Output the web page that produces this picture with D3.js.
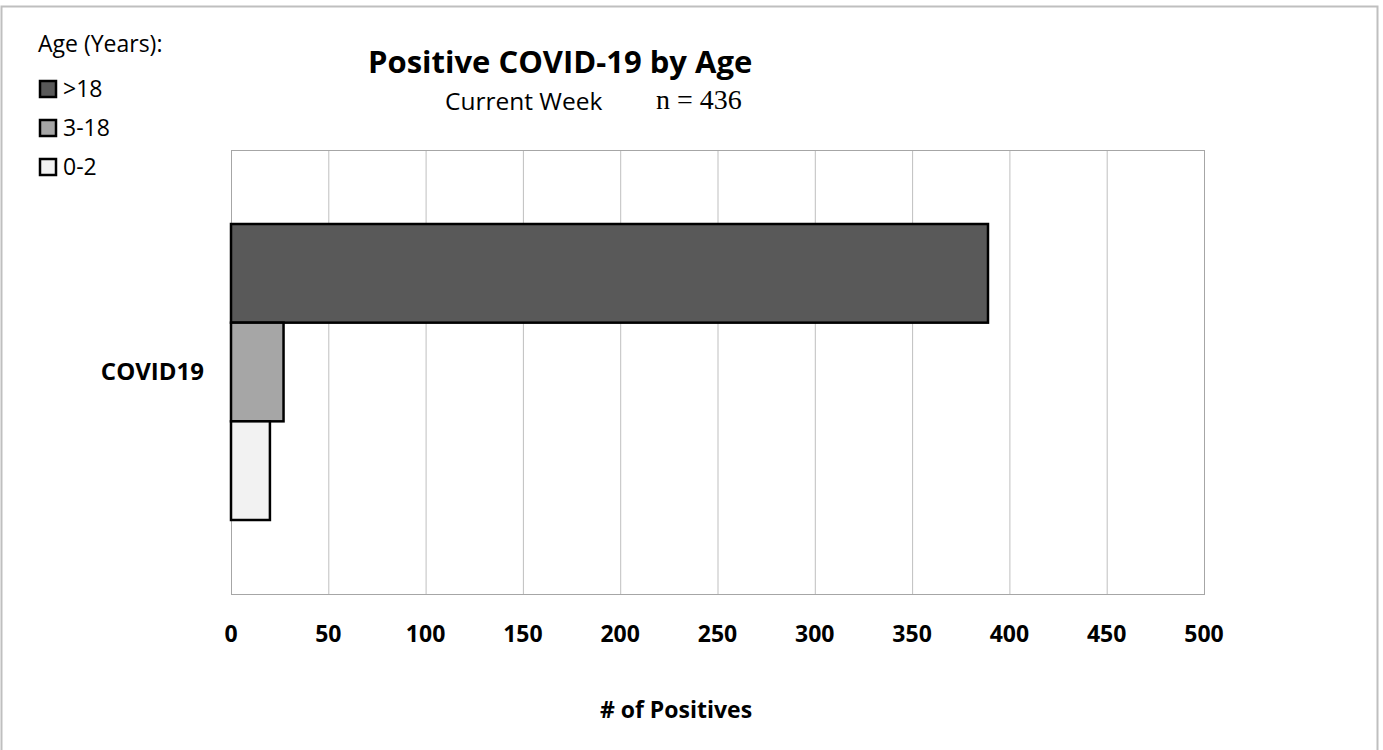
<!DOCTYPE html>
<html>
<head>
<meta charset="utf-8">
<script src="https://cdn.jsdelivr.net/npm/d3@7"></script>
<style>
  body { margin: 0; background: #fff; }
  text { font-family: "Open Sans", Lato, sans-serif; fill: #000; }
</style>
</head>
<body>
<script>
var categories = ['COVID19'];
var groups = ['>18', '3-18', '0-2'];
var values = [389, 27, 20];
var colors = ['#595959', '#a6a6a6', '#f2f2f2'];
var ticks = [0, 50, 100, 150, 200, 250, 300, 350, 400, 450, 500];

var width = 1383;
var height = 750;
var plot = { left: 231, right: 1204, top: 150, bottom: 594 };

var svg = d3.select('body')
  .append('svg')
  .attr('width', width)
  .attr('height', height);

// outer chart border (bottom runs off the page)
svg.append('path')
  .attr('d', 'M1.5,760 V6.5 H1377.5 V760')
  .attr('fill', 'none')
  .attr('stroke', '#bfbfbf')
  .attr('stroke-width', 2);

var x = d3.scaleLinear().domain([0, 500]).range([plot.left, plot.right]);
var y = d3.scaleBand().domain(categories).range([plot.top, plot.bottom]).padding(0);
// bars inside the category band, big gap above and below like excel
var yg = d3.scaleBand().domain(groups).range([0, y.bandwidth()]).paddingOuter(0.75).paddingInner(0);

// gridlines
svg.append('g')
  .selectAll('line')
  .data(ticks)
  .enter()
  .append('line')
  .attr('x1', d => x(d) + 0.5)
  .attr('x2', d => x(d) + 0.5)
  .attr('y1', plot.top)
  .attr('y2', plot.bottom)
  .attr('stroke', '#bfbfbf')
  .attr('stroke-width', 1);

// plot frame
svg.append('rect')
  .attr('x', plot.left + 0.5)
  .attr('y', plot.top + 0.5)
  .attr('width', plot.right - plot.left)
  .attr('height', plot.bottom - plot.top)
  .attr('fill', 'none')
  .attr('stroke', '#a6a6a6')
  .attr('stroke-width', 1);

// bars
svg.append('g')
  .selectAll('rect')
  .data(groups)
  .enter()
  .append('rect')
  .attr('x', x(0))
  .attr('y', d => y('COVID19') + yg(d))
  .attr('width', (d, i) => x(values[i]) - x(0))
  .attr('height', yg.bandwidth())
  .attr('fill', (d, i) => colors[i])
  .attr('stroke', '#000')
  .attr('stroke-width', 2.5);

// x tick labels
svg.append('g')
  .selectAll('text')
  .data(ticks)
  .enter()
  .append('text')
  .attr('x', d => x(d))
  .attr('y', 642)
  .attr('text-anchor', 'middle')
  .style('font-size', '23px')
  .style('font-weight', 'bold')
  .text(d => d);

// category label
svg.append('text')
  .attr('x', 204)
  .attr('y', y('COVID19') + y.bandwidth() / 2 + 8)
  .attr('text-anchor', 'end')
  .style('font-size', '24px')
  .style('font-weight', 'bold')
  .text(categories[0]);

// axis title
svg.append('text')
  .attr('x', 676)
  .attr('y', 718)
  .attr('text-anchor', 'middle')
  .style('font-size', '23px')
  .style('font-weight', 'bold')
  .text('# of Positives');

// titles
svg.append('text')
  .attr('x', 368)
  .attr('y', 73)
  .style('font-size', '31px')
  .style('font-weight', 'bold')
  .text('Positive COVID-19 by Age');

svg.append('text')
  .attr('x', 445)
  .attr('y', 110)
  .style('font-size', '24.5px')
  .text('Current Week');

svg.append('text')
  .attr('x', 656)
  .attr('y', 109)
  .style('font-family', '"Liberation Serif", serif')
  .style('font-size', '28px')
  .text('n = 436');

// legend
svg.append('text')
  .attr('x', 38)
  .attr('y', 52)
  .style('font-size', '23px')
  .text('Age (Years):');

var legend = svg.append('g')
  .selectAll('g')
  .data(groups)
  .enter()
  .append('g')
  .attr('transform', (d, i) => 'translate(40,' + (81 + i * 39) + ')');

legend.append('rect')
  .attr('width', 16)
  .attr('height', 16)
  .attr('fill', (d, i) => colors[i])
  .attr('stroke', '#000')
  .attr('stroke-width', 2.5);

legend.append('text')
  .attr('x', 23)
  .attr('y', 16)
  .style('font-size', '23px')
  .text(d => d);
</script>
</body>
</html>
